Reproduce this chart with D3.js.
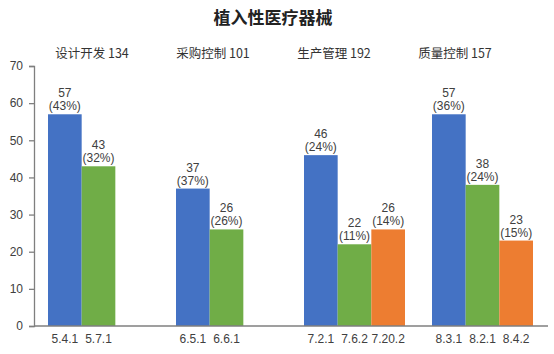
<!DOCTYPE html>
<html><head><meta charset="utf-8">
<script src="https://cdn.jsdelivr.net/npm/d3@7"></script>
<style>body{margin:0;background:#fff}svg{display:block}</style>
</head><body>
<script>
const groups = ["设计开发 134","采购控制 101","生产管理 192","质量控制 157"];
const categories = ["5.4.1","5.7.1","6.5.1","6.6.1","7.2.1","7.6.2","7.20.2","8.3.1","8.2.1","8.4.2"];
const values = [57,43,37,26,46,22,26,57,38,23];
const percents = ["43%","32%","37%","26%","24%","11%","14%","36%","24%","15%"];
const groupIndex = [0,0,1,1,2,2,2,3,3,3];
const slotIndex = [0,1,0,1,0,1,2,0,1,2];
const yTicks = [0,10,20,30,40,50,60,70];
const colors = ["#4472C4","#70AD47","#ED7D31"];
const title = "植入性医疗器械";

const W=554,H=354;
const font = "'Liberation Sans','Noto Sans CJK SC',sans-serif";
const svg = d3.select("body").append("svg").attr("width",W).attr("height",H).style("font-family",font);

const y = d3.scaleLinear().domain([0,70]).range([326,66]);
const gx = d3.scaleBand().domain(d3.range(groups.length)).range([34,546]);
const sx = d3.scaleBand().domain([0,1,2]).range([14,115]);
const hx = d3.scalePoint().domain(d3.range(groups.length)).range([92,455]);

svg.append("text").attr("x",273).attr("y",24).attr("text-anchor","middle")
  .attr("font-size",17).attr("font-weight","bold").attr("fill","#222")
  .style("font-family","'Noto Sans CJK SC',sans-serif").text(title);

svg.selectAll(".hdr").data(groups).join("text")
  .attr("x",(d,i)=>hx(i)).attr("y",58).attr("text-anchor","middle")
  .attr("font-size",12.5).attr("fill","#333")
  .style("font-family","'Noto Sans CJK SC',sans-serif").text(d=>d);

// bars
const bx = i => gx(groupIndex[i]) + sx(slotIndex[i]);
svg.selectAll(".bar").data(values).join("rect")
  .attr("x",(d,i)=>bx(i)).attr("width",sx.bandwidth())
  .attr("y",d=>y(d)).attr("height",d=>y(0)-y(d))
  .attr("fill",(d,i)=>colors[slotIndex[i]]);

// labels
svg.selectAll(".v").data(values).join("text")
  .attr("x",(d,i)=>bx(i)+sx.bandwidth()/2).attr("y",d=>y(d)-17)
  .attr("text-anchor","middle").attr("font-size",12).attr("fill","#404040").text(d=>d);
svg.selectAll(".p").data(percents).join("text")
  .attr("x",(d,i)=>bx(i)+sx.bandwidth()/2).attr("y",(d,i)=>y(values[i])-4)
  .attr("text-anchor","middle").attr("font-size",12).attr("fill","#404040").text(d=>"("+d+")");

// category labels
svg.selectAll(".c").data(categories).join("text")
  .attr("x",(d,i)=>bx(i)+sx.bandwidth()/2).attr("y",343)
  .attr("text-anchor","middle").attr("font-size",12).attr("fill","#404040").text(d=>d);

// y axis
const ya = svg.append("g").attr("transform","translate(34,0)")
  .call(d3.axisLeft(y).tickValues(yTicks).tickSize(5).tickPadding(6));
ya.select(".domain").attr("stroke","#7f7f7f").attr("stroke-width",1.3);
ya.selectAll(".tick line").attr("stroke","#7f7f7f").attr("stroke-width",1.3);
ya.selectAll("text").attr("font-size",12).attr("fill","#404040").style("font-family",font);

// x axis line
svg.append("line").attr("x1",34).attr("x2",548).attr("y1",y(0)).attr("y2",y(0))
  .attr("stroke","#7f7f7f").attr("stroke-width",1.3);
</script>
</body></html>
